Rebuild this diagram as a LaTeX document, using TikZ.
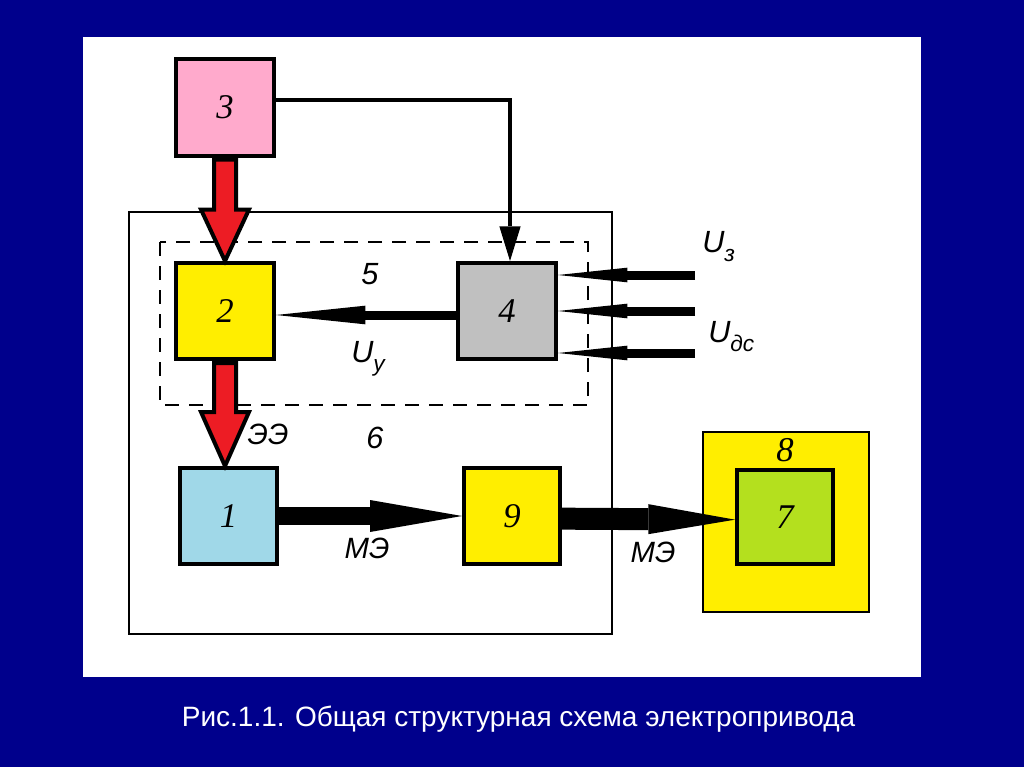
\documentclass[tikz,border=0pt]{standalone}
\usepackage{fontspec}
\setmainfont{Liberation Serif}
\setsansfont{Liberation Sans}
\usetikzlibrary{arrows.meta, calc}

\definecolor{slideblue}{RGB}{0,0,140}
\definecolor{boxpink}{RGB}{255,170,204}
\definecolor{boxyellow}{RGB}{255,238,0}
\definecolor{boxgray}{RGB}{192,192,192}
\definecolor{boxblue}{RGB}{160,216,232}
\definecolor{boxgreen}{RGB}{180,224,30}
\definecolor{arrowred}{RGB}{237,28,36}

\newcommand{\lowidx}[1]{\raisebox{-7pt}{\fontsize{17}{17}\selectfont #1}}

\begin{document}
\begin{tikzpicture}[x=0.75pt, y=-0.75pt]
      \tikzstyle{block} = [draw, rectangle, line width=3pt, inner sep=0pt,
                           minimum width=73.5pt, minimum height=72pt,
                           font=\fontsize{26}{26}\selectfont\itshape]
      \tikzstyle{blockpink} = [block, fill=boxpink]
      \tikzstyle{blockyellow} = [block, fill=boxyellow]
      \tikzstyle{blockgray} = [block, fill=boxgray]
      \tikzstyle{blockblue} = [block, fill=boxblue]
      \tikzstyle{blockgreen} = [block, fill=boxgreen]
      \tikzstyle{lbl} = [inner sep=0pt, font=\sffamily\itshape\fontsize{23}{23}\selectfont]
      \tikzstyle{redarrow} = [fill=arrowred, draw=black, line width=3pt, line join=miter]
      \tikzstyle{sigarrow} = [line width=6.75pt, -{Triangle[length=67pt,width=14pt,line width=0pt]}]
      \tikzstyle{inarrow} = [line width=6.75pt, -{Triangle[length=52pt,width=11pt,line width=0pt]}]

      % slide and sheet
      \fill[slideblue] (0,0) rectangle (1024,767);
      \useasboundingbox (0,0) rectangle (1024,767);
      \fill[white] (83,37) rectangle (921,677);

      % frames 6 and 5
      \draw[line width=1pt] (129,212) rectangle (612,634);
      \draw[line width=1pt, dash pattern=on 10.5pt off 7.5pt] (160,242) rectangle (588,405);

      \node[draw, line width=1pt, fill=boxyellow, minimum width=124.5pt,
            minimum height=135pt] (b8) at (786,522) {};

      \node[blockpink] (b3) at (225,107.5) {3};
      \node[blockyellow] (b2) at (225,311) {2};
      \node[blockgray] (b4) at (507,311) {4};
      \node[blockblue, minimum width=72.75pt] (b1) at (228.5,516) {1};
      \node[blockyellow, minimum width=72pt] (b9) at (512,516) {9};
      \node[blockgreen, minimum width=72pt, minimum height=70.5pt] (b7) at (785,517) {7};
      \node[font=\fontsize{26}{26}\selectfont\itshape, inner sep=0pt] (n8) at (785,450) {8};

      % energy flow 3 -> 2 -> 1
      \filldraw[redarrow] ($(b3.south)+(-11,2)$) -- ++(0,50) -- ++(-13,0)
            -- (b3.south |- b2.north) -- ($(b3.south)+(24,52)$) -- ++(-13,0)
            -- ($(b3.south)+(11,2)$) -- cycle;
      \filldraw[redarrow] ($(b2.south)+(-11,2)$) -- ++(0,49) -- ++(-13,0)
            -- (b2.south |- b1.north) -- ($(b2.south)+(24,51)$) -- ++(-13,0)
            -- ($(b2.south)+(11,2)$) -- cycle;

      % control signals
      \draw[line width=3pt, -{Triangle[length=26pt,width=16pt,line width=0pt]}]
            ([yshift=5.6pt]b3.east) -| ([xshift=2.25pt]b4.north);
      \draw[sigarrow] ([yshift=-3pt]b4.west) -- ([yshift=-3pt]b2.east);

      \coordinate (in1) at (695,275);
      \coordinate (in2) at (695,311);
      \coordinate (in3) at (695,353);
      \draw[inarrow] (in1) -- (b4.east |- in1);
      \draw[inarrow] (in2) -- (b4.east |- in2);
      \draw[inarrow] (in3) -- (b4.east |- in3);

      % mechanical energy
      \draw[line width=13.5pt, -{Triangle[length=69pt,width=24pt,line width=0pt]}]
            (b1.east) -- (b9.west);
      \draw[line width=16.5pt, -{Triangle[length=65pt,width=22.5pt,line width=0pt]}]
            ([yshift=-2pt]b9.east) -- ([yshift=-2pt]b7.west);

      % labels
      \node[lbl] (n5) at (370,274) {5};
      \node[lbl] (n6) at (375,438) {6};
      \node[lbl, anchor=base west] (uy) at (351,362) {U\lowidx{y}};
      \node[lbl, anchor=base west] (uz) at (702,252) {U\lowidx{з}};
      \node[lbl, anchor=base west] (uds) at (708,342) {U\lowidx{дс}};
      \node[lbl, font=\sffamily\itshape\fontsize{22}{22}\selectfont] (ee) at (268,434) {ЭЭ};
      \node[lbl, font=\sffamily\itshape\fontsize{22}{22}\selectfont] (me1) at (367,548) {МЭ};
      \node[lbl, font=\sffamily\itshape\fontsize{22}{22}\selectfont] (me2) at (653,552) {МЭ};

      \node[anchor=base, text=white, font=\sffamily\fontsize{21}{21}\selectfont] (cap)
            at (518.5,726) {Рис.1.1. Общая структурная схема электропривода};
\end{tikzpicture}
\end{document}
